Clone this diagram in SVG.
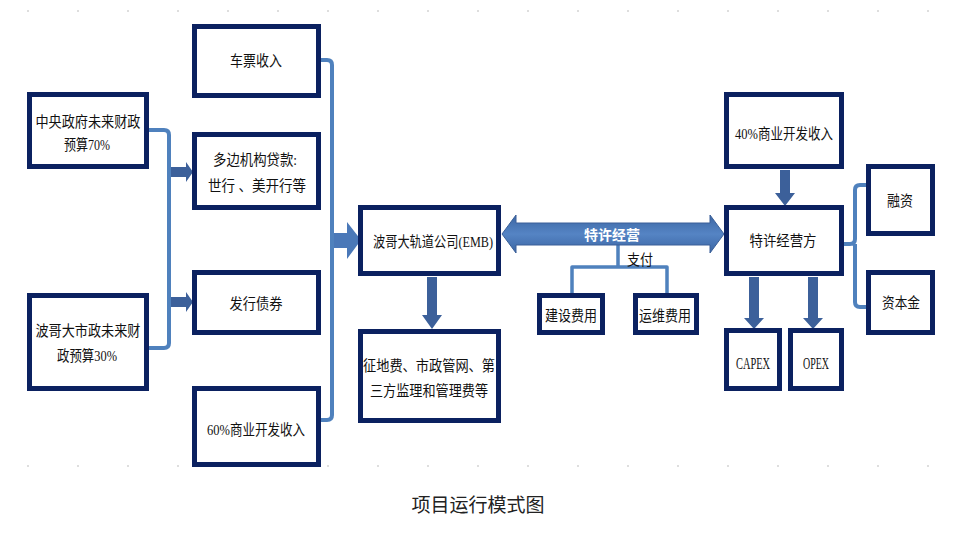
<svg xmlns="http://www.w3.org/2000/svg" width="963" height="535" viewBox="0 0 963 535">
<defs>
<linearGradient id="g" x1="0" y1="0" x2="0" y2="1">
<stop offset="0" stop-color="#3b66a3"/>
<stop offset="0.5" stop-color="#5584c4"/>
<stop offset="1" stop-color="#3b66a3"/>
</linearGradient>
<style>
.box{fill:#fff;stroke:#0b2160;stroke-width:5}
.t{font-family:"Liberation Serif","Noto Sans CJK SC",serif;font-size:15px;fill:#111;text-anchor:middle}
.l{font-size:17px}
.ln{fill:none;stroke:#4f81bd;stroke-width:4;stroke-linejoin:round}
.ar{fill:#3c609a}
.guide{stroke:#d4d4d4;stroke-width:1.5;stroke-dasharray:2 48}
</style>
</defs>
<rect width="963" height="535" fill="#fff"/>
<line class="guide" x1="27" y1="11" x2="950" y2="11"/>
<line class="guide" x1="27" y1="466" x2="950" y2="466"/>

<g id="connectors">
<path class="ln" d="M149,130 H164 Q169,130 169,135 V343 Q169,348 164,348 H149"/>
<path class="ln" d="M321,60 H327 Q332,60 332,65 V415 Q332,420 327,420 H321"/>
<path class="ln" d="M844,244 H850 Q855,244 855,239 V190 Q855,185 860,185 H866 M855,244 V302 Q855,307 860,307 H866"/>
<path class="ln" style="stroke-width:3.5" d="M618,245 V267 M572,293 V267 H667 V293"/>
<polygon class="ar" points="171,167 186,167 186,162 193,172 186,182 186,177 171,177"/>
<polygon class="ar" points="171,297 186,297 186,292 193,302 186,312 186,307 171,307"/>
<polygon fill="#4a78b8" points="334,233 347,233 347,222 361,240 347,259 347,248 334,248"/>
<polygon class="ar" points="427,277 437,277 437,315 442,315 432,329 422,315 427,315"/>
<polygon class="ar" points="780,170 790,170 790,193 795,193 785,206 775,193 780,193"/>
<polygon class="ar" points="749,277 759,277 759,318 764,318 754,329 744,318 749,318"/>
<polygon class="ar" points="808,277 818,277 818,318 823,318 813,329 803,318 808,318"/>
<polygon fill="url(#g)" stroke="#3a5f98" stroke-width="1" points="502,234 516,215 516,223 710,223 710,215 724,234 710,253 710,245 516,245 516,253"/>
<text x="612" y="240" style="font-family:'Noto Sans CJK SC',sans-serif;font-size:14px;fill:#fff;text-anchor:middle;font-weight:bold">特许经营</text>
<text x="640" y="265" class="t" textLength="26" lengthAdjust="spacingAndGlyphs">支付</text>
</g>

<g id="n1"><rect class="box" x="194.5" y="26.5" width="124" height="69"/><text class="t" x="256" y="66" textLength="52" lengthAdjust="spacingAndGlyphs">车票收入</text></g>
<g id="n2"><rect class="box" x="29.5" y="94.5" width="117" height="72"/><text class="t" x="88" y="127" textLength="105" lengthAdjust="spacingAndGlyphs">中央政府未来财政</text><text class="t" x="87" y="150" textLength="46" lengthAdjust="spacingAndGlyphs">预算70%</text></g>
<g id="n3"><rect class="box" x="194.5" y="134.5" width="124" height="73"/><text class="t" x="255" y="165" textLength="84" lengthAdjust="spacingAndGlyphs">多边机构贷款:</text><text class="t" x="257" y="191" textLength="98" lengthAdjust="spacingAndGlyphs">世行 、美开行等</text></g>
<g id="n4"><rect class="box" x="194.5" y="272.5" width="124" height="60"/><text class="t" x="256" y="309" textLength="53" lengthAdjust="spacingAndGlyphs">发行债券</text></g>
<g id="n5"><rect class="box" x="29.5" y="295.5" width="117" height="93"/><text class="t" x="88" y="336" textLength="105" lengthAdjust="spacingAndGlyphs">波哥大市政未来财</text><text class="t" x="87" y="361" textLength="60" lengthAdjust="spacingAndGlyphs">政预算30%</text></g>
<g id="n6"><rect class="box" x="194.5" y="388.5" width="124" height="76"/><text class="t" x="256" y="435" textLength="98" lengthAdjust="spacingAndGlyphs">60%商业开发收入</text></g>
<g id="n7"><rect class="box" x="360.5" y="207.5" width="138" height="66"/><text class="t" x="433" y="247" textLength="120" lengthAdjust="spacingAndGlyphs">波哥大轨道公司(EMB)</text></g>
<g id="n8"><rect class="box" x="360.5" y="331.5" width="138" height="89"/><text class="t" x="429" y="371" textLength="132" lengthAdjust="spacingAndGlyphs">征地费、市政管网、第</text><text class="t" x="429" y="396" textLength="118" lengthAdjust="spacingAndGlyphs">三方监理和管理费等</text></g>
<g id="n9"><rect class="box" x="539.5" y="295.5" width="63" height="37"/><text class="t" x="571" y="321" textLength="52" lengthAdjust="spacingAndGlyphs">建设费用</text></g>
<g id="n10"><rect class="box" x="635.5" y="295.5" width="61" height="37"/><text class="t" x="665" y="321" textLength="52" lengthAdjust="spacingAndGlyphs">运维费用</text></g>
<g id="n11"><rect class="box" x="726.5" y="94.5" width="115" height="72"/><text class="t" x="784" y="139" textLength="98" lengthAdjust="spacingAndGlyphs">40%商业开发收入</text></g>
<g id="n12"><rect class="box" x="726.5" y="207.5" width="115" height="66"/><text class="t" x="783" y="246" textLength="67" lengthAdjust="spacingAndGlyphs">特许经营方</text></g>
<g id="n13"><rect class="box" x="868.5" y="166.5" width="64" height="67"/><text class="t" x="900" y="206" textLength="26" lengthAdjust="spacingAndGlyphs">融资</text></g>
<g id="n14"><rect class="box" x="868.5" y="272.5" width="64" height="60"/><text class="t" x="901" y="308" textLength="38" lengthAdjust="spacingAndGlyphs">资本金</text></g>
<g id="n15"><rect class="box" x="726.5" y="330.5" width="53" height="58"/><text class="t l" x="753" y="369" textLength="34" lengthAdjust="spacingAndGlyphs">CAPEX</text></g>
<g id="n16"><rect class="box" x="790.5" y="330.5" width="51" height="58"/><text class="t l" x="816" y="369" textLength="26" lengthAdjust="spacingAndGlyphs">OPEX</text></g>

<text x="478" y="512" style="font-family:'Noto Sans CJK SC',sans-serif;font-size:19px;fill:#222;text-anchor:middle">项目运行模式图</text>
</svg>
